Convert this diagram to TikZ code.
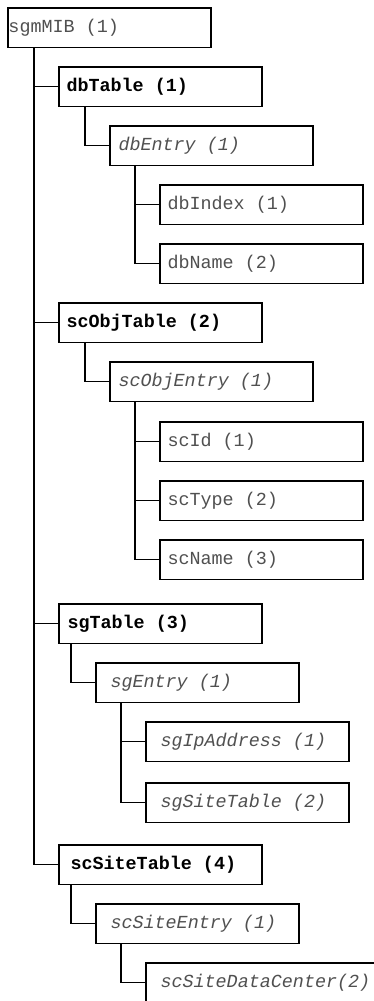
\documentclass[tikz,border=0pt]{standalone}
\usepackage{fontspec}
\setmonofont{Liberation Mono}
\definecolor{txtgray}{HTML}{505050}
\newcommand\msp{\hspace*{0.6em}}
\begin{document}
\begin{tikzpicture}[x=1pt,y=-1pt,
  box/.style={draw=black, line width=1.4pt, minimum height=39.5pt, anchor=north west,
    align=left, inner ysep=0pt, outer sep=0pt},
  plain/.style={font=\fontsize{18.4}{21}\selectfont\ttfamily, text=txtgray},
  tbl/.style={font=\fontsize{18.4}{21}\selectfont\ttfamily\bfseries, text=black},
  ent/.style={font=\fontsize{18.4}{21}\selectfont\ttfamily\itshape, text=txtgray},
  conn/.style={draw=black, line width=1.4pt}]
\useasboundingbox (0,0) rectangle (374,1001);
\fill[white] (0,0) rectangle (374,1001);

\node[box, plain, inner xsep=0.5pt, text width=202pt] (root) at (8,8) {sgmMIB\msp(1)};

\node[box, tbl, inner xsep=7.5pt, text width=188pt] (dbTable) at (59,67) {dbTable\msp(1)};
\node[box, ent, inner xsep=8.5pt, text width=186pt] (dbEntry) at (110,126) {dbEntry\msp(1)};
\node[box, plain, inner xsep=7.5pt, text width=188pt] (dbIndex) at (160,185) {dbIndex\msp(1)};
\node[box, plain, inner xsep=7.5pt, text width=188pt] (dbName) at (160,244) {dbName\msp(2)};

\node[box, tbl, inner xsep=7.5pt, text width=188pt] (scObjTable) at (59,303) {scObjTable\msp(2)};
\node[box, ent, inner xsep=8.5pt, text width=186pt] (scObjEntry) at (110,362) {scObjEntry\msp(1)};
\node[box, plain, inner xsep=7.5pt, text width=188pt] (scId) at (160,422) {scId\msp(1)};
\node[box, plain, inner xsep=7.5pt, text width=188pt] (scType) at (160,481) {scType\msp(2)};
\node[box, plain, inner xsep=7.5pt, text width=188pt] (scName) at (160,540) {scName\msp(3)};

\node[box, tbl, inner xsep=8.5pt, text width=186pt] (sgTable) at (59,604) {sgTable\msp(3)};
\node[box, ent, inner xsep=14.5pt, text width=174pt] (sgEntry) at (96,663) {sgEntry\msp(1)};
\node[box, ent, inner xsep=14.5pt, text width=174pt] (sgIpAddress) at (146,722) {sgIpAddress\msp(1)};
\node[box, ent, inner xsep=14.5pt, text width=174pt] (sgSiteTable) at (146,783) {sgSiteTable\msp(2)};

\node[box, tbl, inner xsep=11.5pt, text width=180pt] (scSiteTable) at (59,845) {scSiteTable\msp(4)};
\node[box, ent, inner xsep=14.5pt, text width=174pt] (scSiteEntry) at (96,904) {scSiteEntry\msp(1)};
\node[box, ent, inner xsep=14.5pt, text width=240pt] (scSiteDataCenter) at (146,963) {scSiteDataCenter(2)};

\draw[conn] ([xshift=26pt]root.south west) |- (dbTable.west);
\draw[conn] ([xshift=26pt]root.south west) |- (scObjTable.west);
\draw[conn] ([xshift=26pt]root.south west) |- (sgTable.west);
\draw[conn] ([xshift=26pt]root.south west) |- (scSiteTable.west);

\draw[conn] ([xshift=26pt]dbTable.south west) |- (dbEntry.west);
\draw[conn] ([xshift=25pt]dbEntry.south west) |- (dbIndex.west);
\draw[conn] ([xshift=25pt]dbEntry.south west) |- (dbName.west);

\draw[conn] ([xshift=26pt]scObjTable.south west) |- (scObjEntry.west);
\draw[conn] ([xshift=25pt]scObjEntry.south west) |- (scId.west);
\draw[conn] ([xshift=25pt]scObjEntry.south west) |- (scType.west);
\draw[conn] ([xshift=25pt]scObjEntry.south west) |- (scName.west);

\draw[conn] ([xshift=12pt]sgTable.south west) |- (sgEntry.west);
\draw[conn] ([xshift=25pt]sgEntry.south west) |- (sgIpAddress.west);
\draw[conn] ([xshift=25pt]sgEntry.south west) |- (sgSiteTable.west);

\draw[conn] ([xshift=12pt]scSiteTable.south west) |- (scSiteEntry.west);
\draw[conn] ([xshift=25pt]scSiteEntry.south west) |- (scSiteDataCenter.west);
\end{tikzpicture}
\end{document}
